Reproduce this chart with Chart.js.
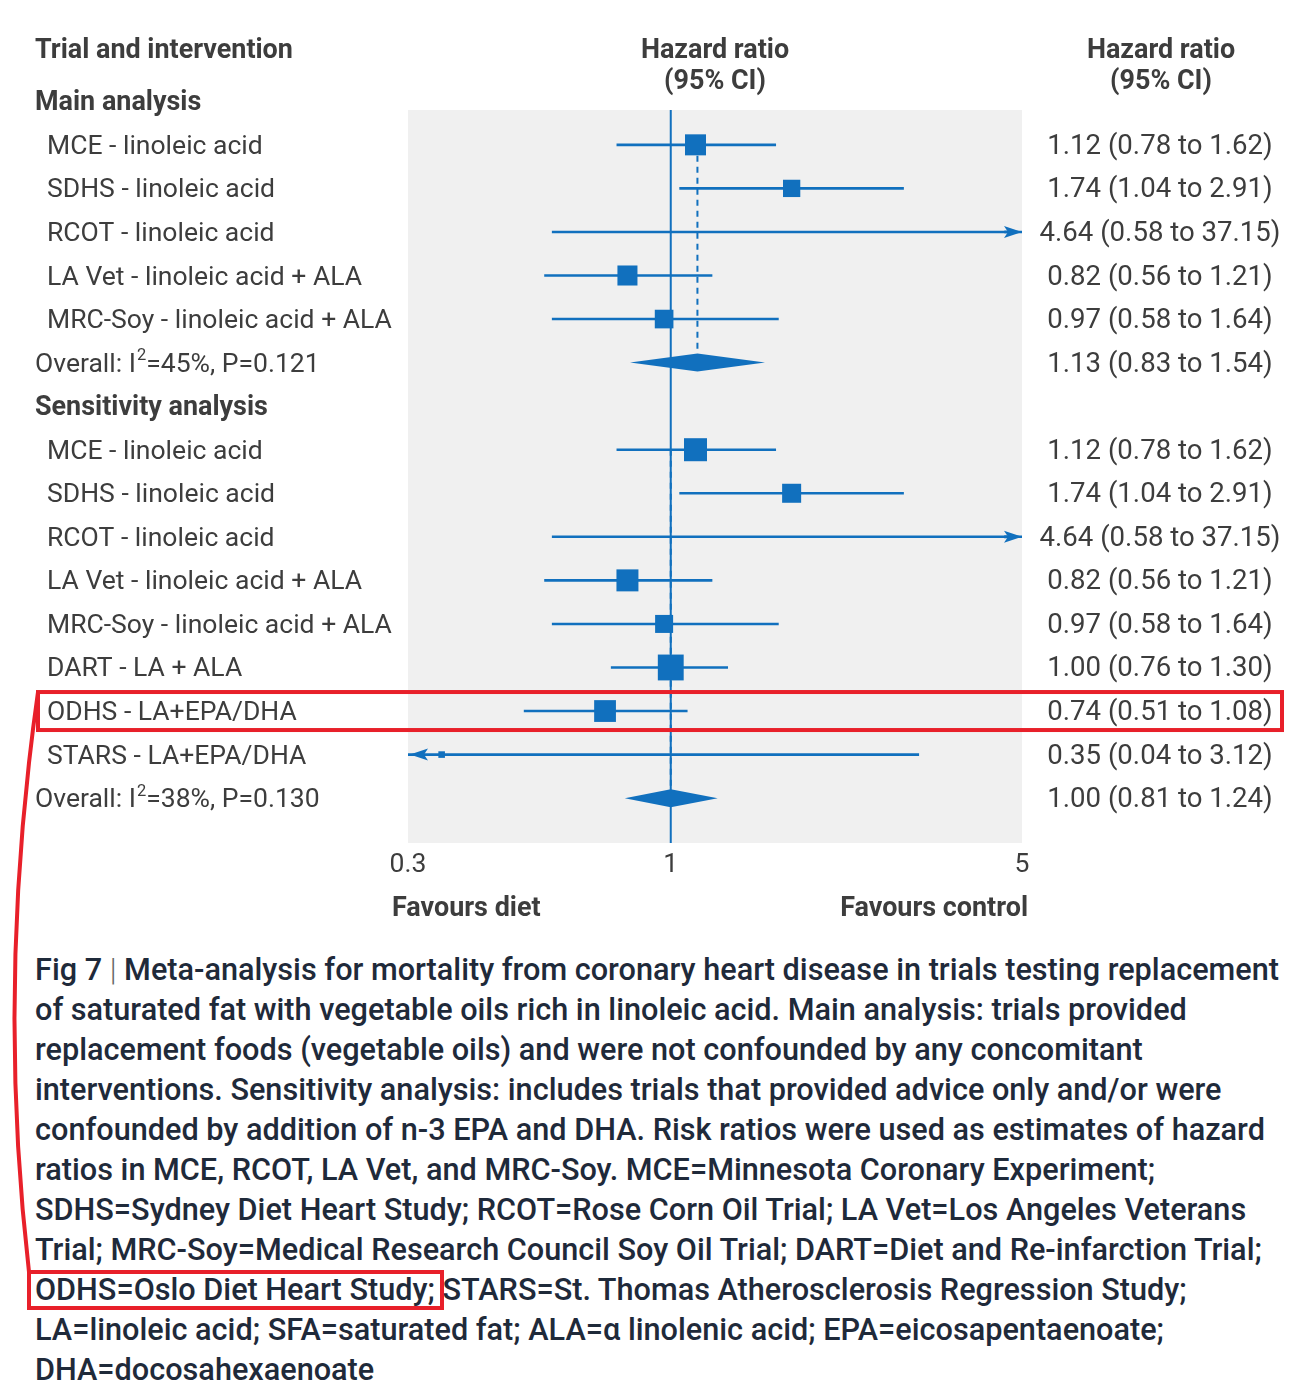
<!DOCTYPE html>
<html>
<head>
<meta charset="utf-8">
<script src="https://cdn.jsdelivr.net/npm/chart.js@4.4.0/dist/chart.umd.min.js"></script>
<style>
html,body{margin:0;padding:0;background:#fff;}
#wrap{position:relative;width:1303px;height:1396px;overflow:hidden;background:#fff;}
#chartBox{position:absolute;left:0;top:0;width:1303px;height:940px;}
#caption{position:absolute;left:35px;top:950px;width:1268px;font-family:Roboto,sans-serif;font-weight:500;color:#1f2a3a;line-height:40px;white-space:nowrap;}
#hl{display:inline-block;height:40px;line-height:40px;outline:4px solid #e8202a;outline-offset:-4px;margin-left:-8px;padding-left:8px;padding-right:9px;margin-right:-9px;}
.bar{font-weight:300;color:#666;}
#overlay{position:absolute;left:0;top:0;pointer-events:none;}
</style>
</head>
<body>
<div id="wrap">
  <div id="chartBox"><canvas id="c"></canvas></div>
  <div id="caption">Fig 7 <span class="bar">|</span> Meta-analysis for mortality from coronary heart disease in trials testing replacement<br>of saturated fat with vegetable oils rich in linoleic acid. Main analysis: trials provided<br>replacement foods (vegetable oils) and were not confounded by any concomitant<br>interventions. Sensitivity analysis: includes trials that provided advice only and/or were<br>confounded by addition of n-3 EPA and DHA. Risk ratios were used as estimates of hazard<br>ratios in MCE, RCOT, LA Vet, and MRC-Soy. MCE=Minnesota Coronary Experiment;<br>SDHS=Sydney Diet Heart Study; RCOT=Rose Corn Oil Trial; LA Vet=Los Angeles Veterans<br>Trial; MRC-Soy=Medical Research Council Soy Oil Trial; DART=Diet and Re-infarction Trial;<br><span id="hl">ODHS=Oslo Diet Heart Study;</span> STARS=St. Thomas Atherosclerosis Regression Study;<br>LA=linoleic acid; SFA=saturated fat; ALA=α linolenic acid; EPA=eicosapentaenoate;<br>DHA=docosahexaenoate</div>
  <svg id="overlay" width="1303" height="1396"><path id="conn" d="" fill="none" stroke="#e8202a" stroke-width="4"/></svg>
</div>
<script>
// ---------------- DATA ----------------
const rowLabels = [
  'Main analysis',
  'MCE - linoleic acid',
  'SDHS - linoleic acid',
  'RCOT - linoleic acid',
  'LA Vet - linoleic acid + ALA',
  'MRC-Soy - linoleic acid + ALA',
  'Overall: I\u00B2=45%, P=0.121',
  'Sensitivity analysis',
  'MCE - linoleic acid',
  'SDHS - linoleic acid',
  'RCOT - linoleic acid',
  'LA Vet - linoleic acid + ALA',
  'MRC-Soy - linoleic acid + ALA',
  'DART - LA + ALA',
  'ODHS - LA+EPA/DHA',
  'STARS - LA+EPA/DHA',
  'Overall: I\u00B2=38%, P=0.130'
];
const rowKinds = ['header','study','study','study','study','study','overall',
                  'header','study','study','study','study','study','study','study','study','overall'];
const hazardRatios = [null,1.12,1.74,4.64,0.82,0.97,1.13, null,1.12,1.74,4.64,0.82,0.97,1.00,0.74,0.35,1.00];
const ciLower      = [null,0.78,1.04,0.58,0.56,0.58,0.83, null,0.78,1.04,0.58,0.56,0.58,0.76,0.51,0.04,0.81];
const ciUpper      = [null,1.62,2.91,37.15,1.21,1.64,1.54, null,1.62,2.91,37.15,1.21,1.64,1.30,1.08,3.12,1.24];
const weights      = [null,29.5,20.0,0.5,26.8,23.2,null, null,18.3,12.5,0.3,16.7,11.2,23.1,16.4,1.5,null];
const tickValues = [0.3, 1, 5];
const axisNotes = ['Favours diet', 'Favours control'];
const columnTitles = ['Trial and intervention', 'Hazard ratio', '(95% CI)'];
const highlightRow = 14;

// ---------------- STYLE ----------------
const BLUE = '#1170be';
const TEXT = '#3d3d3d';
const RED = '#e8202a';
const FAM = 'Roboto, sans-serif';
const mctx = document.createElement('canvas').getContext('2d');
function fit(text, weight, target) {
  mctx.font = weight + ' 100px ' + FAM;
  return 100 * target / mctx.measureText(text).width;
}
const LBL = fit('MRC-Soy - linoleic acid + ALA', 400, 345);
const VAL = fit('4.64 (0.58 to 37.15)', 400, 241);
const BLD = fit('Trial and intervention', 700, 258);
const CAP = fit('Fig 7 | Meta-analysis for mortality from coronary heart disease in trials testing replacement', 500, 1245);
document.getElementById('caption').style.fontSize = CAP.toFixed(2) + 'px';

function sectionScale(i) { return i < 7 ? 38.7 : 53.8; }
function fmt(v) { return v.toFixed(2); }

// ---------------- DATASETS ----------------
const datasets = [];
const squarePts = [], squareSizes = [];
rowKinds.forEach((k, i) => {
  if (k !== 'study') return;
  squarePts.push({x: hazardRatios[i], y: i});
  squareSizes.push(Math.sqrt(weights[i] / 100) * sectionScale(i));
});
datasets.push({
  type: 'scatter', order: 0, data: squarePts,
  pointStyle: 'rect', backgroundColor: BLUE, borderWidth: 0,
  pointRadius: c => squareSizes[c.dataIndex] / Math.SQRT2,
  pointHoverRadius: c => squareSizes[c.dataIndex] / Math.SQRT2
});
rowKinds.forEach((k, i) => {
  if (k !== 'study') return;
  datasets.push({
    type: 'line', order: 1,
    data: [{x: ciLower[i], y: i}, {x: ciUpper[i], y: i}],
    borderColor: BLUE, borderWidth: 2.6, pointRadius: 0, pointHoverRadius: 0,
    borderCapStyle: 'butt', fill: false
  });
});

// draw text with "²" rendered as a raised small 2
function drawLabel(ctx, text, x, y, size) {
  const parts = text.split('\u00B2');
  ctx.font = '400 ' + size + 'px ' + FAM;
  let cx = x;
  parts.forEach((p, j) => {
    ctx.fillText(p, cx, y);
    cx += ctx.measureText(p).width;
    if (j < parts.length - 1) {
      ctx.font = '400 ' + (size * 0.62) + 'px ' + FAM;
      ctx.fillText('2', cx + 1, y - size * 0.42);
      cx += ctx.measureText('2').width + 1;
      ctx.font = '400 ' + size + 'px ' + FAM;
    }
  });
}

// ---------------- PLUGINS ----------------
const backPlugin = {
  id: 'back',
  beforeDatasetsDraw(chart) {
    const {ctx, chartArea: a, scales: {x, y}} = chart;
    ctx.save();
    ctx.fillStyle = '#f0f0f0';
    ctx.fillRect(a.left, a.top, a.right - a.left, a.bottom - a.top);
    ctx.strokeStyle = BLUE; ctx.lineWidth = 2;
    const x1 = x.getPixelForValue(1);
    ctx.beginPath(); ctx.moveTo(x1, a.top); ctx.lineTo(x1, a.bottom); ctx.stroke();
    let first = null;
    rowKinds.forEach((k, i) => {
      if (k === 'study' && first === null) first = i;
      if (k === 'overall') {
        const px = x.getPixelForValue(hazardRatios[i]);
        ctx.setLineDash([6, 5]);
        ctx.beginPath();
        ctx.moveTo(px, y.getPixelForValue(first));
        ctx.lineTo(px, y.getPixelForValue(i) - 9);
        ctx.stroke();
        ctx.setLineDash([]);
        first = null;
      }
    });
    ctx.restore();
  }
};

const frontPlugin = {
  id: 'front',
  afterDatasetsDraw(chart) {
    const {ctx, chartArea: a, scales: {x, y}} = chart;
    ctx.save();
    ctx.fillStyle = BLUE;
    rowKinds.forEach((k, i) => {
      const py = y.getPixelForValue(i);
      if (k === 'overall') {
        const l = x.getPixelForValue(ciLower[i]), r = x.getPixelForValue(ciUpper[i]), c = x.getPixelForValue(hazardRatios[i]);
        ctx.beginPath();
        ctx.moveTo(l, py); ctx.lineTo(c, py - 9); ctx.lineTo(r, py); ctx.lineTo(c, py + 9);
        ctx.closePath(); ctx.fill();
      }
      if (k === 'study') {
        if (ciUpper[i] > x.max) {
          const t = a.right;
          ctx.beginPath();
          ctx.moveTo(t, py); ctx.lineTo(t - 18, py - 6); ctx.lineTo(t - 14, py); ctx.lineTo(t - 18, py + 6);
          ctx.closePath(); ctx.fill();
        }
        if (ciLower[i] < x.min) {
          const t = a.left + 2;
          ctx.beginPath();
          ctx.moveTo(t, py); ctx.lineTo(t + 18, py - 6); ctx.lineTo(t + 14, py); ctx.lineTo(t + 18, py + 6);
          ctx.closePath(); ctx.fill();
        }
      }
    });
    ctx.restore();
  },
  afterDraw(chart) {
    const {ctx, chartArea: a, scales: {x, y}} = chart;
    ctx.save();
    ctx.fillStyle = TEXT;
    ctx.textBaseline = 'alphabetic';
    ctx.font = '700 ' + BLD + 'px ' + FAM;
    ctx.textAlign = 'left';
    ctx.fillText(columnTitles[0], 35, 58);
    ctx.textAlign = 'center';
    ctx.fillText(columnTitles[1], 715, 58);
    ctx.fillText(columnTitles[2], 715, 89);
    ctx.fillText(columnTitles[1], 1161, 58);
    ctx.fillText(columnTitles[2], 1161, 89);
    rowKinds.forEach((k, i) => {
      const py = y.getPixelForValue(i) + 9;
      ctx.textAlign = 'left';
      if (k === 'header') {
        ctx.font = '700 ' + BLD + 'px ' + FAM;
        ctx.fillText(rowLabels[i], 35, py);
      } else {
        drawLabel(ctx, rowLabels[i], k === 'study' ? 47 : 35, py, LBL);
        ctx.font = '400 ' + VAL + 'px ' + FAM;
        ctx.textAlign = 'center';
        ctx.fillText(fmt(hazardRatios[i]) + ' (' + fmt(ciLower[i]) + ' to ' + fmt(ciUpper[i]) + ')', 1160, py);
      }
    });
    ctx.font = '400 ' + LBL + 'px ' + FAM;
    ctx.textAlign = 'center';
    tickValues.forEach(t => ctx.fillText(String(t), x.getPixelForValue(t), a.bottom + 29));
    ctx.font = '700 ' + BLD + 'px ' + FAM;
    ctx.textAlign = 'left';
    ctx.fillText(axisNotes[0], 392, a.bottom + 73);
    ctx.textAlign = 'right';
    ctx.fillText(axisNotes[1], 1028, a.bottom + 73);
    const hy = y.getPixelForValue(highlightRow);
    ctx.strokeStyle = RED; ctx.lineWidth = 4;
    ctx.strokeRect(38, hy - 19, 1244, 38);
    ctx.restore();
    chart.$hlTop = hy - 19;
  }
};

const chart = new Chart(document.getElementById('c'), {
  type: 'scatter',
  data: {datasets},
  options: {
    responsive: true, maintainAspectRatio: false, animation: false,
    layout: {padding: {left: 408, right: 281, top: 110, bottom: 97}},
    plugins: {legend: {display: false}, tooltip: {enabled: false}},
    events: [],
    scales: {
      x: {type: 'logarithmic', min: 0.3, max: 5, display: false, bounds: 'data'},
      y: {type: 'linear', min: 0.2, max: 17.03, reverse: true, display: false, bounds: 'data'}
    }
  },
  plugins: [backPlugin, frontPlugin]
});

function drawConnector() {
  const hl = document.getElementById('hl').getBoundingClientRect();
  const w = document.getElementById('wrap').getBoundingClientRect();
  const sy = chart.$hlTop !== undefined ? chart.$hlTop : 692;
  const ex = hl.left - w.left + 2, ey = hl.top - w.top + 2;
  document.getElementById('conn').setAttribute('d',
    'M 38 ' + sy.toFixed(1) + ' Q -4 ' + ((sy + ey) / 2 + 5).toFixed(1) + ' ' + ex.toFixed(1) + ' ' + ey.toFixed(1));
}
drawConnector();
</script>
</body>
</html>
